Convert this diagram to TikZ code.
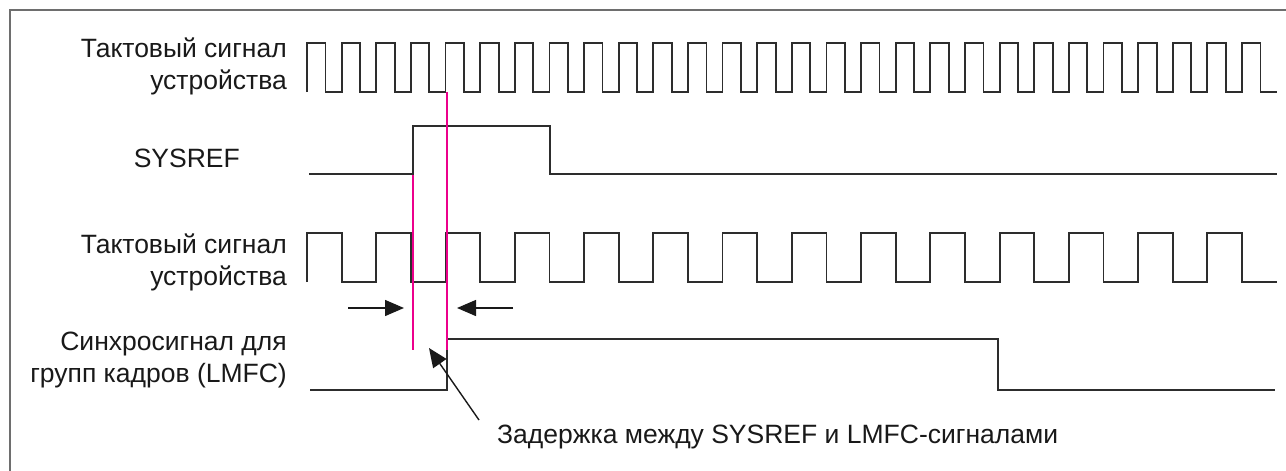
\documentclass[tikz,border=0pt]{standalone}
\usepackage{fontspec}
\setmainfont{Liberation Sans}
\usepackage{tikz}
\usepackage{xcolor}
\usetikzlibrary{arrows.meta, positioning, calc}
\definecolor{tracegray}{RGB}{45,45,45}
\definecolor{framegray}{RGB}{110,110,110}
\definecolor{cursorpink}{RGB}{236,0,140}

\begin{document}
\begin{tikzpicture}[x=1pt, y=-1pt,
    wave/.style={draw=tracegray, line width=1.8pt, line join=miter},
    cursor/.style={draw=cursorpink, line width=1.8pt},
    lbl/.style={font=\fontsize{26.5}{32}\selectfont, align=right, inner sep=0pt, text=black!90},
    dimarrow/.style={draw=black!90, line width=1.4pt, -{Triangle[length=19pt, width=16pt]}}]
    \useasboundingbox (0,0) rectangle (1286,471);
    % frame
    \draw [framegray, line width=1.5pt] (10,471) -- (10,10) -- (1286,10);
    % labels
    \node[lbl, anchor=east] (clkA) at (287,66) {Тактовый сигнал\\устройства};
    \node[lbl, anchor=east] (sysref) at (240,158) {SYSREF};
    \node[lbl, anchor=east] (clkB) at (287,262) {Тактовый сигнал\\устройства};
    \node[lbl, anchor=east] (lmfc) at (287,360) {Синхросигнал для\\групп кадров (LMFC)};
    \node[lbl, anchor=west, align=left] (delay) at (497,437) {Задержка между SYSREF и LMFC-сигналами};
    % fast device clock
    \draw [wave] (307,92) \foreach \k in {0,...,27}{ -- ++(0,-49) -- ++(18.5,0) -- ++(0,49) -- ++(16.13,0)};
    % sysref
    \draw [wave] (309,174) -- (413,174) -- (413,126) -- (550,126) -- (550,174) -- (1277,174);
    % slow device clock
    \draw [wave] (307,282) \foreach \k in {0,...,13}{ -- ++(0,-49) -- ++(34.63,0) -- ++(0,49) -- ++(34.63,0)};
    % lmfc
    \draw [wave] (310,390) -- (447,390) -- (447,339) -- (998,339) -- (998,390) -- (1275,390);
    % cursors
    \coordinate (curAtop) at (413,175);
    \coordinate (curAbot) at (413,350);
    \coordinate (curBtop) at (447,92);
    \coordinate (curBbot) at (447,350);
    \draw [cursor] (curAtop) -- (curAbot);
    \draw [cursor] (curBtop) -- (curBbot);
    % delay arrows
    \coordinate (inL) at (348,308);
    \coordinate (inLtip) at (404,308);
    \coordinate (inR) at (513,308);
    \coordinate (inRtip) at (457,308);
    \draw [dimarrow] (inL) -- (inLtip);
    \draw [dimarrow] (inR) -- (inRtip);
    \coordinate (ptr) at (479,420);
    \coordinate (ptrtip) at (429,348);
    \draw [dimarrow] (ptr) -- (ptrtip);
\end{tikzpicture}
\end{document}
